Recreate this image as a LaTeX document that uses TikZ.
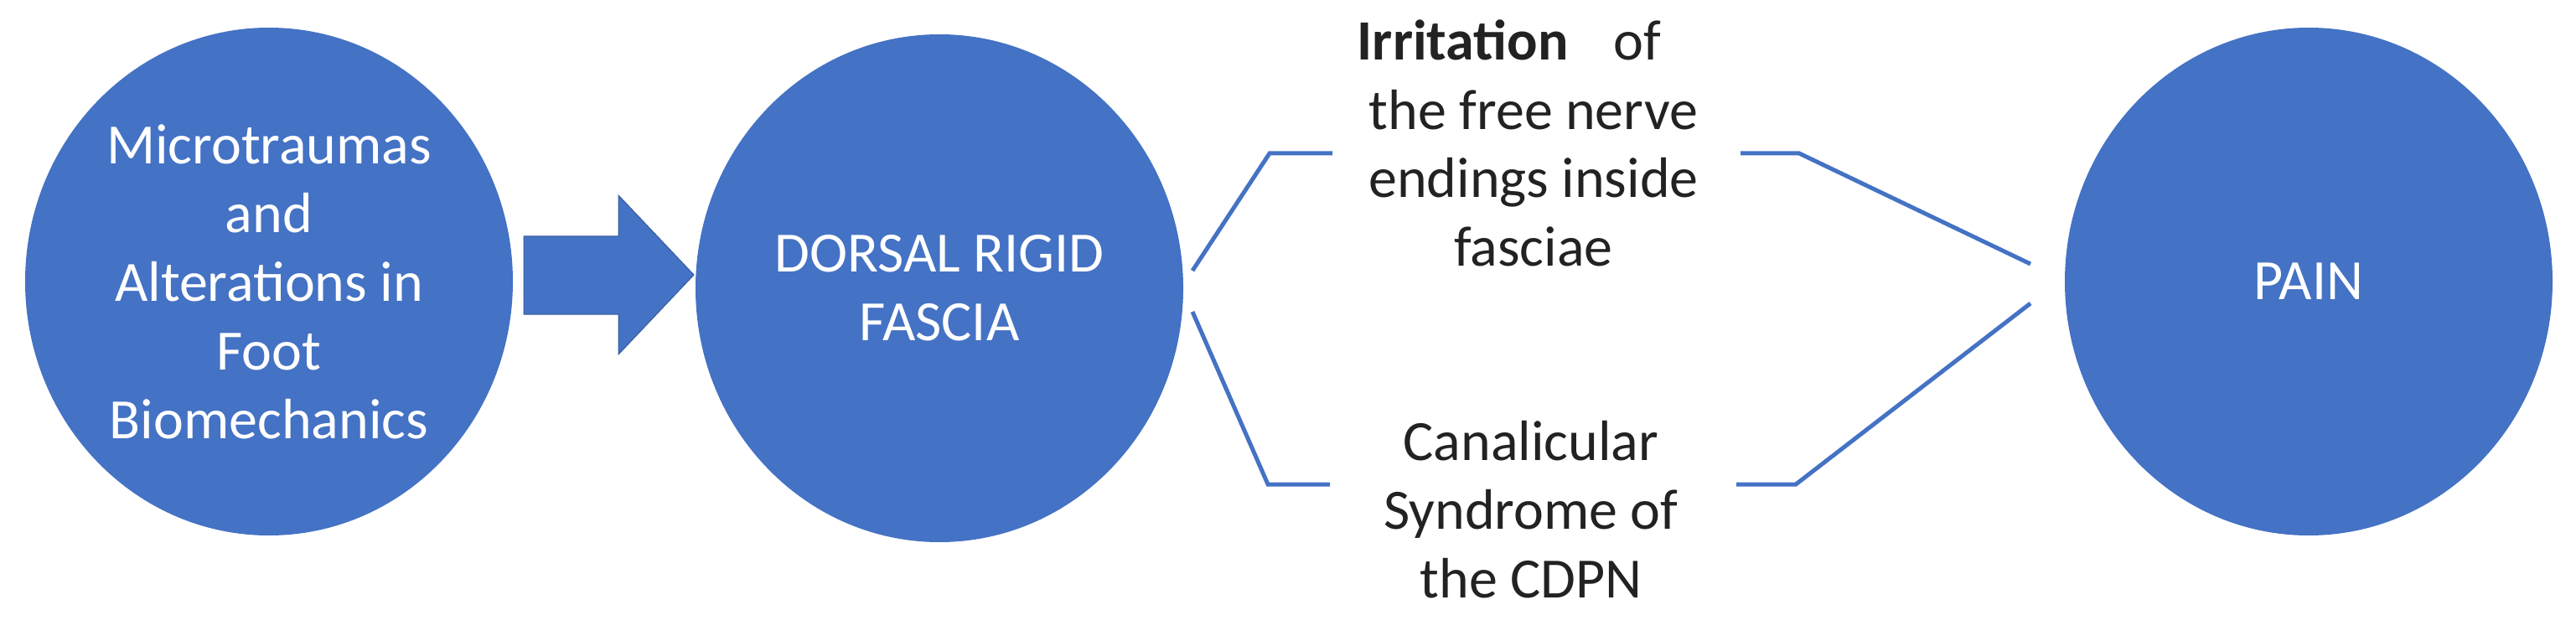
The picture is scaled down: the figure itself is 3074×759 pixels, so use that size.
\documentclass[tikz,border=0pt]{standalone}
\usepackage{fontspec}
\setmainfont{Carlito}
\usetikzlibrary{shapes.geometric}
\definecolor{blueA}{HTML}{4472C4}
\definecolor{txt}{HTML}{222222}
\tikzset{
  bubble/.style={ellipse, fill=blueA, draw=none, inner sep=0pt,
    minimum width=582pt, minimum height=606pt, text=white, align=center,
    font=\fontsize{68}{82}\selectfont},
  midtext/.style={inner sep=0pt, text=txt, align=center, anchor=base,
    font=\fontsize{68}{82}\selectfont},
  link/.style={draw=blueA, line width=5pt, line join=miter},
  blockarrow/.style={fill=blueA, draw=blueA!80!black, line width=1pt}
}
\begin{document}
\begin{tikzpicture}[x=1pt,y=-1pt]
\useasboundingbox (0,0) rectangle (3074,759);
\node[bubble] (c1) at (321,336) {Microtraumas\\and\\Alterations in\\Foot\\Biomechanics};
\node[bubble] (c2) at (1121,344) {DORSAL RIGID\\FASCIA};
\node[bubble] (c3) at (2755,336) {PAIN};
% anchor=base of a multi-line node is the baseline of its last line
\node[midtext] (t1) at (1830,318) {\textbf{Irritation}\hspace{54pt}of\hspace*{58pt}\\the free nerve\\endings inside\\fasciae};
\node[midtext] (t2) at (1827,713) {Canalicular\\Syndrome of\\the CDPN};
% block arrow between first two circles
\path[blockarrow] (625,282) -- (738,282) -- (738,233) -- (828,328) -- (738,423) -- (738,375) -- (625,375) -- cycle;
% bracket coordinates
\coordinate (ua) at (1423,323);
\coordinate (ub) at (1515,183);
\coordinate (uc) at (1590,183);
\coordinate (la) at (1423,372);
\coordinate (lb) at (1513,578);
\coordinate (lc) at (1587,578);
\coordinate (ra) at (2077,183);
\coordinate (rb) at (2147,183);
\coordinate (rc) at (2423,315);
\coordinate (sa) at (2072,578);
\coordinate (sb) at (2143,578);
\coordinate (sc) at (2423,362);
\draw[link] (ua) -- (ub) -- (uc);
\draw[link] (la) -- (lb) -- (lc);
\draw[link] (ra) -- (rb) -- (rc);
\draw[link] (sa) -- (sb) -- (sc);
\end{tikzpicture}
\end{document}
